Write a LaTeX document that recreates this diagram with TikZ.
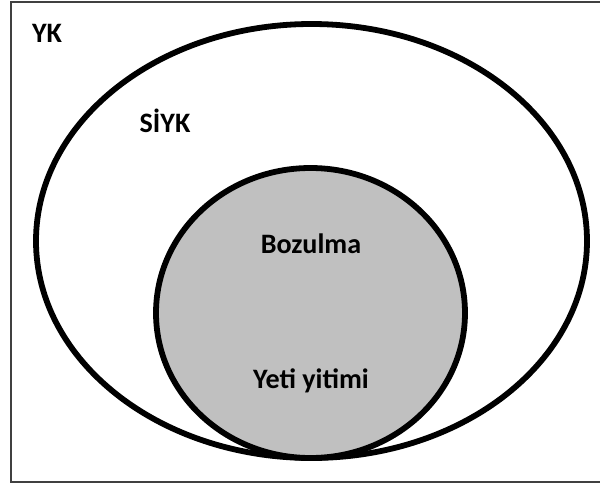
\documentclass[tikz,border=0pt]{standalone}
\usepackage{fontspec}
\setmainfont{Carlito}
\usepackage{tikz}
\definecolor{setgray}{RGB}{192,192,192}

\begin{document}
\begin{tikzpicture}[x=0.02cm,y=-0.02cm]
 \tikzstyle{frame} = [draw=black!75,line width=0.9pt];
 \tikzstyle{setline} = [draw=black,line width=3.3pt];
 \tikzstyle{txt} = [anchor=base,inner sep=0pt,font=\fontsize{16}{19}\selectfont\bfseries];

 \useasboundingbox (0,0) rectangle (600,484);
 \draw[frame] (11,2) rectangle (601,482);

 % sets
 \draw[setline] (311.5,241) ellipse [x radius=275.5,y radius=217];
 \draw[setline,fill=setgray] (310.5,313) ellipse [x radius=154.5,y radius=145];

 \node[txt,name=yk]    at (47,42)   {YK};
 \node[txt,name=siyk]  at (165,132) {SİYK};
 \node[txt,name=boz]   at (311,253) {Bozulma};
 \node[txt,name=yeti]  at (311,388) {Yeti yitimi};
\end{tikzpicture}
\end{document}
